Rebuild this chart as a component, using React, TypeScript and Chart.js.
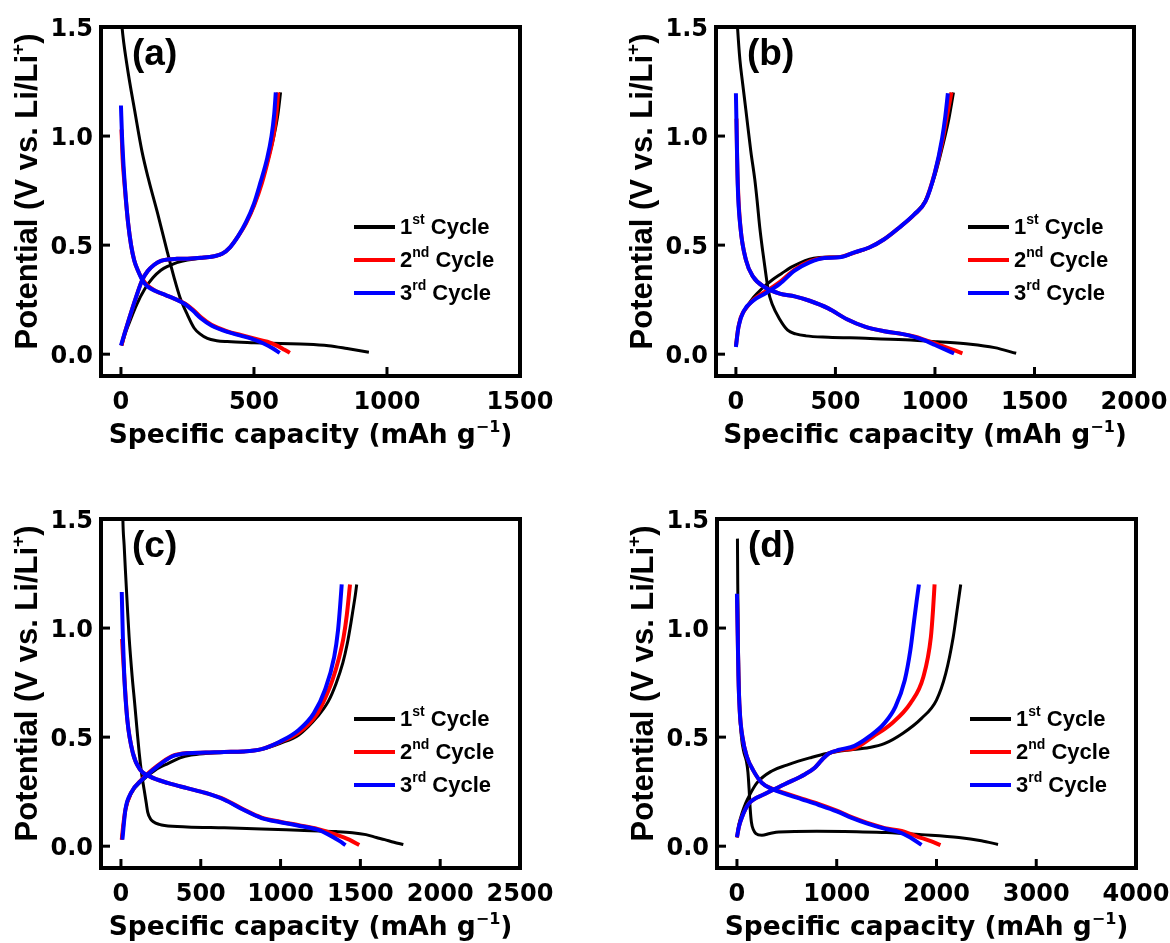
import React, { useEffect, useRef } from "react";
import { Chart, registerables } from "chart.js";
Chart.register(...registerables);

type Pt = [number, number];

// ---------- Panel (a) ----------
const aXRange = [-75, 1500];
const aXTicks = [0, 500, 1000, 1500];
const aCycle1Discharge: Pt[] = [[1,1.55],[4,1.5],[22,1.33],[54,1.1],[79,0.93],[104,0.8],[139,0.64],[174,0.47],[200,0.35],[222,0.26],[250,0.18],[275,0.12],[297,0.093],[325,0.072],[360,0.062],[400,0.058],[500,0.053],[600,0.049],[700,0.046],[780,0.039],[850,0.026],[932,0.009]];
const aCycle1Charge: Pt[] = [[3,0.04],[15,0.09],[30,0.14],[60,0.23],[90,0.3],[120,0.35],[150,0.385],[180,0.405],[210,0.42],[250,0.432],[300,0.44],[350,0.448],[380,0.46],[410,0.49],[440,0.54],[470,0.6],[500,0.68],[530,0.79],[555,0.9],[575,1.0],[590,1.1],[600,1.2]];
const aCycle2Discharge: Pt[] = [[2,1.03],[6,0.9],[12,0.8],[19,0.7],[27,0.6],[38,0.5],[50,0.43],[65,0.38],[80,0.345],[100,0.315],[130,0.29],[170,0.27],[200,0.255],[240,0.232],[270,0.205],[300,0.17],[340,0.135],[400,0.105],[450,0.088],[500,0.072],[550,0.057],[590,0.037],[615,0.02],[635,0.006]];
const aCycle2Charge: Pt[] = [[2,0.04],[15,0.1],[30,0.16],[55,0.255],[80,0.34],[100,0.38],[125,0.41],[150,0.428],[180,0.435],[210,0.437],[250,0.438],[300,0.442],[350,0.449],[380,0.46],[410,0.49],[440,0.54],[470,0.6],[500,0.68],[530,0.785],[555,0.9],[573,1.0],[584,1.1],[591,1.2]];
const aCycle3Discharge: Pt[] = [[0,1.14],[4,1.0],[10,0.86],[18,0.72],[27,0.6],[38,0.5],[50,0.43],[65,0.38],[80,0.34],[100,0.31],[130,0.29],[170,0.27],[200,0.255],[240,0.23],[270,0.2],[300,0.165],[340,0.132],[400,0.102],[450,0.085],[500,0.067],[540,0.047],[570,0.027],[597,0.006]];
const aCycle3Charge: Pt[] = [[0,0.04],[15,0.1],[30,0.16],[55,0.255],[80,0.34],[100,0.38],[125,0.41],[150,0.428],[180,0.435],[210,0.437],[250,0.438],[300,0.442],[350,0.449],[380,0.46],[410,0.49],[440,0.54],[470,0.605],[500,0.69],[525,0.79],[550,0.9],[566,1.0],[576,1.1],[582,1.2]];

// ---------- Panel (b) ----------
const bXRange = [-100, 2000];
const bXTicks = [0, 500, 1000, 1500, 2000];
const bCycle1Discharge: Pt[] = [[3,1.58],[8,1.5],[20,1.35],[34,1.24],[50,1.12],[75,0.93],[95,0.8],[107,0.7],[120,0.58],[135,0.47],[150,0.37],[163,0.29],[182,0.23],[220,0.16],[260,0.11],[300,0.093],[351,0.084],[464,0.078],[650,0.073],[850,0.066],[1011,0.057],[1179,0.046],[1300,0.03],[1408,0.004]];
const bCycle1Charge: Pt[] = [[0,0.04],[10,0.11],[25,0.17],[50,0.21],[88,0.26],[130,0.3],[182,0.34],[230,0.37],[276,0.398],[320,0.418],[370,0.435],[420,0.443],[470,0.446],[520,0.446],[595,0.465],[670,0.489],[745,0.527],[820,0.58],[896,0.64],[952,0.705],[1000,0.82],[1040,0.96],[1070,1.08],[1093,1.2]];
const bCycle2Discharge: Pt[] = [[3,1.08],[6,0.9],[11,0.75],[23,0.58],[51,0.43],[88,0.353],[145,0.307],[220,0.278],[295,0.265],[370,0.245],[464,0.21],[558,0.16],[651,0.125],[745,0.105],[839,0.092],[900,0.08],[945,0.067],[1000,0.05],[1060,0.03],[1100,0.017],[1138,0.004]];
const bCycle2Charge: Pt[] = [[0,0.035],[10,0.11],[25,0.17],[50,0.21],[88,0.25],[145,0.285],[220,0.33],[295,0.388],[370,0.425],[445,0.442],[520,0.445],[595,0.466],[670,0.489],[745,0.527],[820,0.58],[896,0.64],[952,0.7],[999,0.83],[1036,0.97],[1062,1.1],[1083,1.2]];
const bCycle3Discharge: Pt[] = [[0,1.196],[4,1.006],[9,0.78],[23,0.58],[51,0.43],[88,0.353],[145,0.307],[220,0.278],[295,0.265],[370,0.245],[464,0.21],[558,0.16],[651,0.125],[745,0.105],[839,0.092],[900,0.078],[945,0.064],[1000,0.042],[1050,0.022],[1096,0.003]];
const bCycle3Charge: Pt[] = [[0,0.033],[13,0.125],[41,0.2],[88,0.246],[145,0.277],[220,0.322],[295,0.383],[370,0.421],[445,0.441],[520,0.444],[595,0.467],[670,0.489],[745,0.527],[820,0.58],[896,0.641],[952,0.7],[999,0.83],[1036,0.99],[1052,1.09],[1065,1.196]];

// ---------- Panel (c) ----------
const cXRange = [-125, 2500];
const cXTicks = [0, 500, 1000, 1500, 2000, 2500];
const cCycle1Discharge: Pt[] = [[10,1.6],[12,1.5],[20,1.38],[28,1.264],[40,1.1],[51,0.96],[70,0.78],[86,0.655],[100,0.54],[114,0.43],[130,0.33],[145,0.26],[158,0.2],[168,0.155],[185,0.125],[203,0.112],[240,0.1],[273,0.095],[414,0.088],[647,0.084],[881,0.079],[1114,0.073],[1348,0.067],[1450,0.062],[1535,0.053],[1600,0.04],[1652,0.03],[1710,0.018],[1769,0.008]];
const cCycle1Charge: Pt[] = [[5,0.03],[15,0.1],[28,0.165],[63,0.24],[133,0.3],[227,0.355],[297,0.38],[370,0.405],[440,0.418],[530,0.425],[647,0.43],[764,0.433],[881,0.444],[998,0.472],[1114,0.51],[1231,0.594],[1300,0.665],[1348,0.746],[1390,0.84],[1418,0.929],[1440,1.02],[1453,1.08],[1468,1.15],[1477,1.2]];
const cCycle2Discharge: Pt[] = [[7,0.95],[12,0.88],[21,0.777],[40,0.579],[75,0.426],[121,0.35],[180,0.32],[297,0.289],[414,0.266],[530,0.244],[647,0.215],[764,0.17],[881,0.131],[998,0.112],[1114,0.096],[1231,0.079],[1348,0.053],[1430,0.03],[1493,0.005]];
const cCycle2Charge: Pt[] = [[5,0.03],[15,0.1],[28,0.168],[63,0.244],[133,0.308],[227,0.368],[320,0.413],[414,0.427],[530,0.429],[647,0.432],[764,0.434],[881,0.445],[998,0.478],[1114,0.52],[1231,0.609],[1280,0.68],[1325,0.761],[1365,0.86],[1395,0.959],[1415,1.06],[1435,1.2]];
const cCycle3Discharge: Pt[] = [[5,1.165],[12,0.96],[21,0.777],[40,0.579],[75,0.426],[121,0.35],[180,0.32],[297,0.289],[414,0.266],[530,0.244],[647,0.213],[764,0.168],[881,0.129],[998,0.11],[1114,0.094],[1231,0.076],[1301,0.053],[1371,0.023],[1407,0.005]];
const cCycle3Charge: Pt[] = [[9,0.03],[28,0.168],[63,0.244],[133,0.305],[227,0.365],[320,0.411],[414,0.426],[530,0.429],[647,0.432],[764,0.434],[881,0.445],[998,0.48],[1114,0.533],[1208,0.609],[1278,0.716],[1336,0.868],[1360,0.99],[1373,1.1],[1383,1.2]];

// ---------- Panel (d) ----------
const dXRange = [-200, 4000];
const dXTicks = [0, 1000, 2000, 3000, 4000];
const dCycle1Discharge: Pt[] = [[5,1.41],[8,1.2],[12,1.0],[18,0.8],[28,0.62],[45,0.5],[70,0.43],[95,0.39],[110,0.34],[122,0.26],[133,0.17],[145,0.11],[165,0.075],[190,0.058],[250,0.05],[330,0.058],[420,0.065],[800,0.068],[1200,0.066],[1500,0.063],[1850,0.053],[2224,0.04],[2450,0.025],[2617,0.008]];
const dCycle1Charge: Pt[] = [[0,0.04],[20,0.1],[50,0.15],[90,0.2],[116,0.225],[200,0.29],[350,0.345],[500,0.372],[616,0.39],[729,0.405],[900,0.425],[1103,0.44],[1327,0.452],[1477,0.47],[1664,0.518],[1850,0.586],[2000,0.67],[2093,0.792],[2168,0.959],[2206,1.08],[2243,1.2]];
const dCycle2Discharge: Pt[] = [[0,1.15],[8,0.96],[15,0.78],[28,0.62],[55,0.5],[100,0.41],[160,0.35],[250,0.29],[350,0.264],[483,0.243],[650,0.218],[816,0.194],[1000,0.163],[1150,0.133],[1300,0.108],[1483,0.083],[1650,0.07],[1800,0.045],[1950,0.022],[2040,0.005]];
const dCycle2Charge: Pt[] = [[0,0.04],[20,0.09],[50,0.133],[117,0.194],[283,0.24],[483,0.285],[683,0.33],[780,0.36],[850,0.395],[920,0.425],[1028,0.44],[1178,0.449],[1364,0.503],[1551,0.563],[1738,0.655],[1869,0.777],[1944,0.959],[1965,1.08],[1981,1.2]];
const dCycle3Discharge: Pt[] = [[0,1.157],[8,0.96],[15,0.78],[28,0.62],[55,0.5],[100,0.41],[160,0.35],[250,0.29],[350,0.262],[483,0.24],[650,0.215],[816,0.19],[1000,0.16],[1150,0.13],[1300,0.105],[1483,0.08],[1626,0.065],[1738,0.04],[1850,0.006]];
const dCycle3Charge: Pt[] = [[0,0.042],[20,0.09],[50,0.133],[117,0.194],[283,0.24],[483,0.285],[683,0.33],[780,0.36],[850,0.395],[920,0.425],[1028,0.442],[1178,0.46],[1327,0.503],[1477,0.563],[1589,0.64],[1682,0.761],[1738,0.898],[1776,1.035],[1800,1.12],[1824,1.2]];

// ---------- shared ----------
const yRange = [-0.1, 1.5];
const yTicks = [0, 0.5, 1.0, 1.5];
const yTickLabels = ["0.0", "0.5", "1.0", "1.5"];
const cycleNumbers = ["1", "2", "3"];
const cycleSuffixes = ["st", "nd", "rd"];
const cycleWord = " Cycle";
const panelLabels = ["(a)", "(b)", "(c)", "(d)"];

const cycleColors = ["#000000", "#ff0000", "#0000ff"];
const cycleWidths = [3, 4, 4];

const panelData = [
  { xRange: aXRange, xTicks: aXTicks, curves: [[aCycle1Discharge, aCycle1Charge], [aCycle2Discharge, aCycle2Charge], [aCycle3Discharge, aCycle3Charge]] },
  { xRange: bXRange, xTicks: bXTicks, curves: [[bCycle1Discharge, bCycle1Charge], [bCycle2Discharge, bCycle2Charge], [bCycle3Discharge, bCycle3Charge]] },
  { xRange: cXRange, xTicks: cXTicks, curves: [[cCycle1Discharge, cCycle1Charge], [cCycle2Discharge, cCycle2Charge], [cCycle3Discharge, cCycle3Charge]] },
  { xRange: dXRange, xTicks: dXTicks, curves: [[dCycle1Discharge, dCycle1Charge], [dCycle2Discharge, dCycle2Charge], [dCycle3Discharge, dCycle3Charge]] },
];

// layout: canvas placement and plot area (px within canvas)
const panelLayout = [
  { left: 0, top: 0, w: 585, h: 470, l: 101, t: 27, r: 520, b: 376 },
  { left: 585, top: 0, w: 585, h: 470, l: 131, t: 27, r: 549, b: 376 },
  { left: 0, top: 470, w: 585, h: 473, l: 101, t: 49, r: 520, b: 398 },
  { left: 585, top: 470, w: 585, h: 473, l: 132, t: 49, r: 551, b: 398 },
];

type Part = { t: string; sup?: boolean };

function drawRich(ctx: CanvasRenderingContext2D, parts: Part[], x: number, y: number, align: "left" | "center", font: string, supFont: string, rise: number) {
  const widths = parts.map((p) => {
    ctx.font = p.sup ? supFont : font;
    return ctx.measureText(p.t).width;
  });
  const total = widths.reduce((a, b) => a + b, 0);
  let cx = align === "center" ? x - total / 2 : x;
  ctx.textAlign = "left";
  ctx.textBaseline = "alphabetic";
  parts.forEach((p, i) => {
    ctx.font = p.sup ? supFont : font;
    ctx.fillText(p.t, cx, p.sup ? y - rise : y);
    cx += widths[i];
  });
}

function makeDecor(idx: number) {
  return {
    id: "decor" + idx,
    afterDraw(chart: any) {
      const ctx: CanvasRenderingContext2D = chart.ctx;
      const { left, right, top, bottom } = chart.chartArea;
      const xs = chart.scales.x;
      const ys = chart.scales.y;
      const pd = panelData[idx];
      ctx.save();
      ctx.strokeStyle = "#000";
      ctx.fillStyle = "#000";
      // ticks (inward)
      ctx.lineWidth = 3;
      ctx.lineCap = "butt";
      for (const v of pd.xTicks) {
        const px = xs.getPixelForValue(v);
        ctx.beginPath();
        ctx.moveTo(px, bottom);
        ctx.lineTo(px, bottom - 9);
        ctx.stroke();
      }
      for (const v of yTicks) {
        const py = ys.getPixelForValue(v);
        ctx.beginPath();
        ctx.moveTo(left, py);
        ctx.lineTo(left + 9, py);
        ctx.stroke();
      }
      // frame
      ctx.lineWidth = 4;
      ctx.lineJoin = "miter";
      ctx.strokeRect(left, top, right - left, bottom - top);
      // tick labels
      ctx.font = 'bold 24px "DejaVu Sans"';
      ctx.textBaseline = "alphabetic";
      ctx.textAlign = "center";
      for (const v of pd.xTicks) {
        ctx.fillText(String(v), xs.getPixelForValue(v), bottom + 33);
      }
      ctx.textAlign = "right";
      yTicks.forEach((v, i) => {
        ctx.fillText(yTickLabels[i], left - 8, ys.getPixelForValue(v) + 9);
      });
      // x title
      drawRich(
        ctx,
        [{ t: "Specific capacity (mAh g" }, { t: "\u22121", sup: true }, { t: ")" }],
        (left + right) / 2,
        bottom + 67,
        "center",
        'bold 26.5px "DejaVu Sans"',
        'bold 16px "DejaVu Sans"',
        11
      );
      // y title
      ctx.save();
      ctx.translate(left - 64, (top + bottom) / 2 - 10);
      ctx.rotate(-Math.PI / 2);
      drawRich(
        ctx,
        [{ t: "Potential (V vs. Li/Li" }, { t: "+", sup: true }, { t: ")" }],
        0,
        0,
        "center",
        'bold 31px "Liberation Sans"',
        'bold 19px "Liberation Sans"',
        13
      );
      ctx.restore();
      // panel label
      ctx.font = 'bold 37px "Liberation Sans"';
      ctx.textAlign = "left";
      ctx.fillText(panelLabels[idx], left + 31, top + 38);
      // legend
      for (let i = 0; i < 3; i++) {
        const ly = top + 200 + i * 33;
        ctx.strokeStyle = cycleColors[i];
        ctx.lineWidth = 4;
        ctx.beginPath();
        ctx.moveTo(right - 166, ly);
        ctx.lineTo(right - 125, ly);
        ctx.stroke();
        ctx.fillStyle = "#000";
        drawRich(
          ctx,
          [{ t: cycleNumbers[i] }, { t: cycleSuffixes[i], sup: true }, { t: cycleWord }],
          right - 120,
          ly + 7,
          "left",
          'bold 22px "Liberation Sans"',
          'bold 14px "Liberation Sans"',
          10
        );
      }
      ctx.restore();
    },
  };
}

function Panel({ idx }: { idx: number }) {
  const ref = useRef<HTMLCanvasElement>(null);
  const lay = panelLayout[idx];
  useEffect(() => {
    const pd = panelData[idx];
    const datasets: any[] = [];
    // draw order: dataset 0 is drawn on top -> blue first, black last
    for (let c = 2; c >= 0; c--) {
      for (const curve of pd.curves[c]) {
        datasets.push({
          data: curve.map(([x, y]) => ({ x, y })),
          borderColor: cycleColors[c],
          backgroundColor: cycleColors[c],
          borderWidth: cycleWidths[c],
          pointRadius: 0,
          fill: false,
          cubicInterpolationMode: "monotone",
        });
      }
    }
    const chart = new Chart(ref.current as HTMLCanvasElement, {
      type: "line",
      data: { datasets },
      options: {
        animation: false,
        responsive: false,
        devicePixelRatio: 1,
        layout: { padding: { left: 0, top: lay.t, right: lay.w - lay.r, bottom: 0 } },
        plugins: { legend: { display: false }, tooltip: { enabled: false }, title: { display: false } },
        events: [],
        scales: {
          x: {
            type: "linear",
            min: pd.xRange[0],
            max: pd.xRange[1],
            ticks: { display: false },
            grid: { display: false },
            border: { display: false },
            afterFit: (s: any) => {
              s.height = lay.h - lay.b;
            },
          },
          y: {
            type: "linear",
            min: yRange[0],
            max: yRange[1],
            ticks: { display: false },
            grid: { display: false },
            border: { display: false },
            afterFit: (s: any) => {
              s.width = lay.l;
            },
          },
        },
      } as any,
      plugins: [makeDecor(idx)],
    });
    return () => chart.destroy();
  }, []);
  return (
    <canvas
      ref={ref}
      width={lay.w}
      height={lay.h}
      style={{ position: "absolute", left: lay.left, top: lay.top, width: lay.w, height: lay.h }}
    />
  );
}

export default function App() {
  return (
    <div style={{ position: "absolute", left: 0, top: 0, width: 1170, height: 943, background: "#ffffff" }}>
      {[0, 1, 2, 3].map((i) => (
        <Panel key={i} idx={i} />
      ))}
    </div>
  );
}
